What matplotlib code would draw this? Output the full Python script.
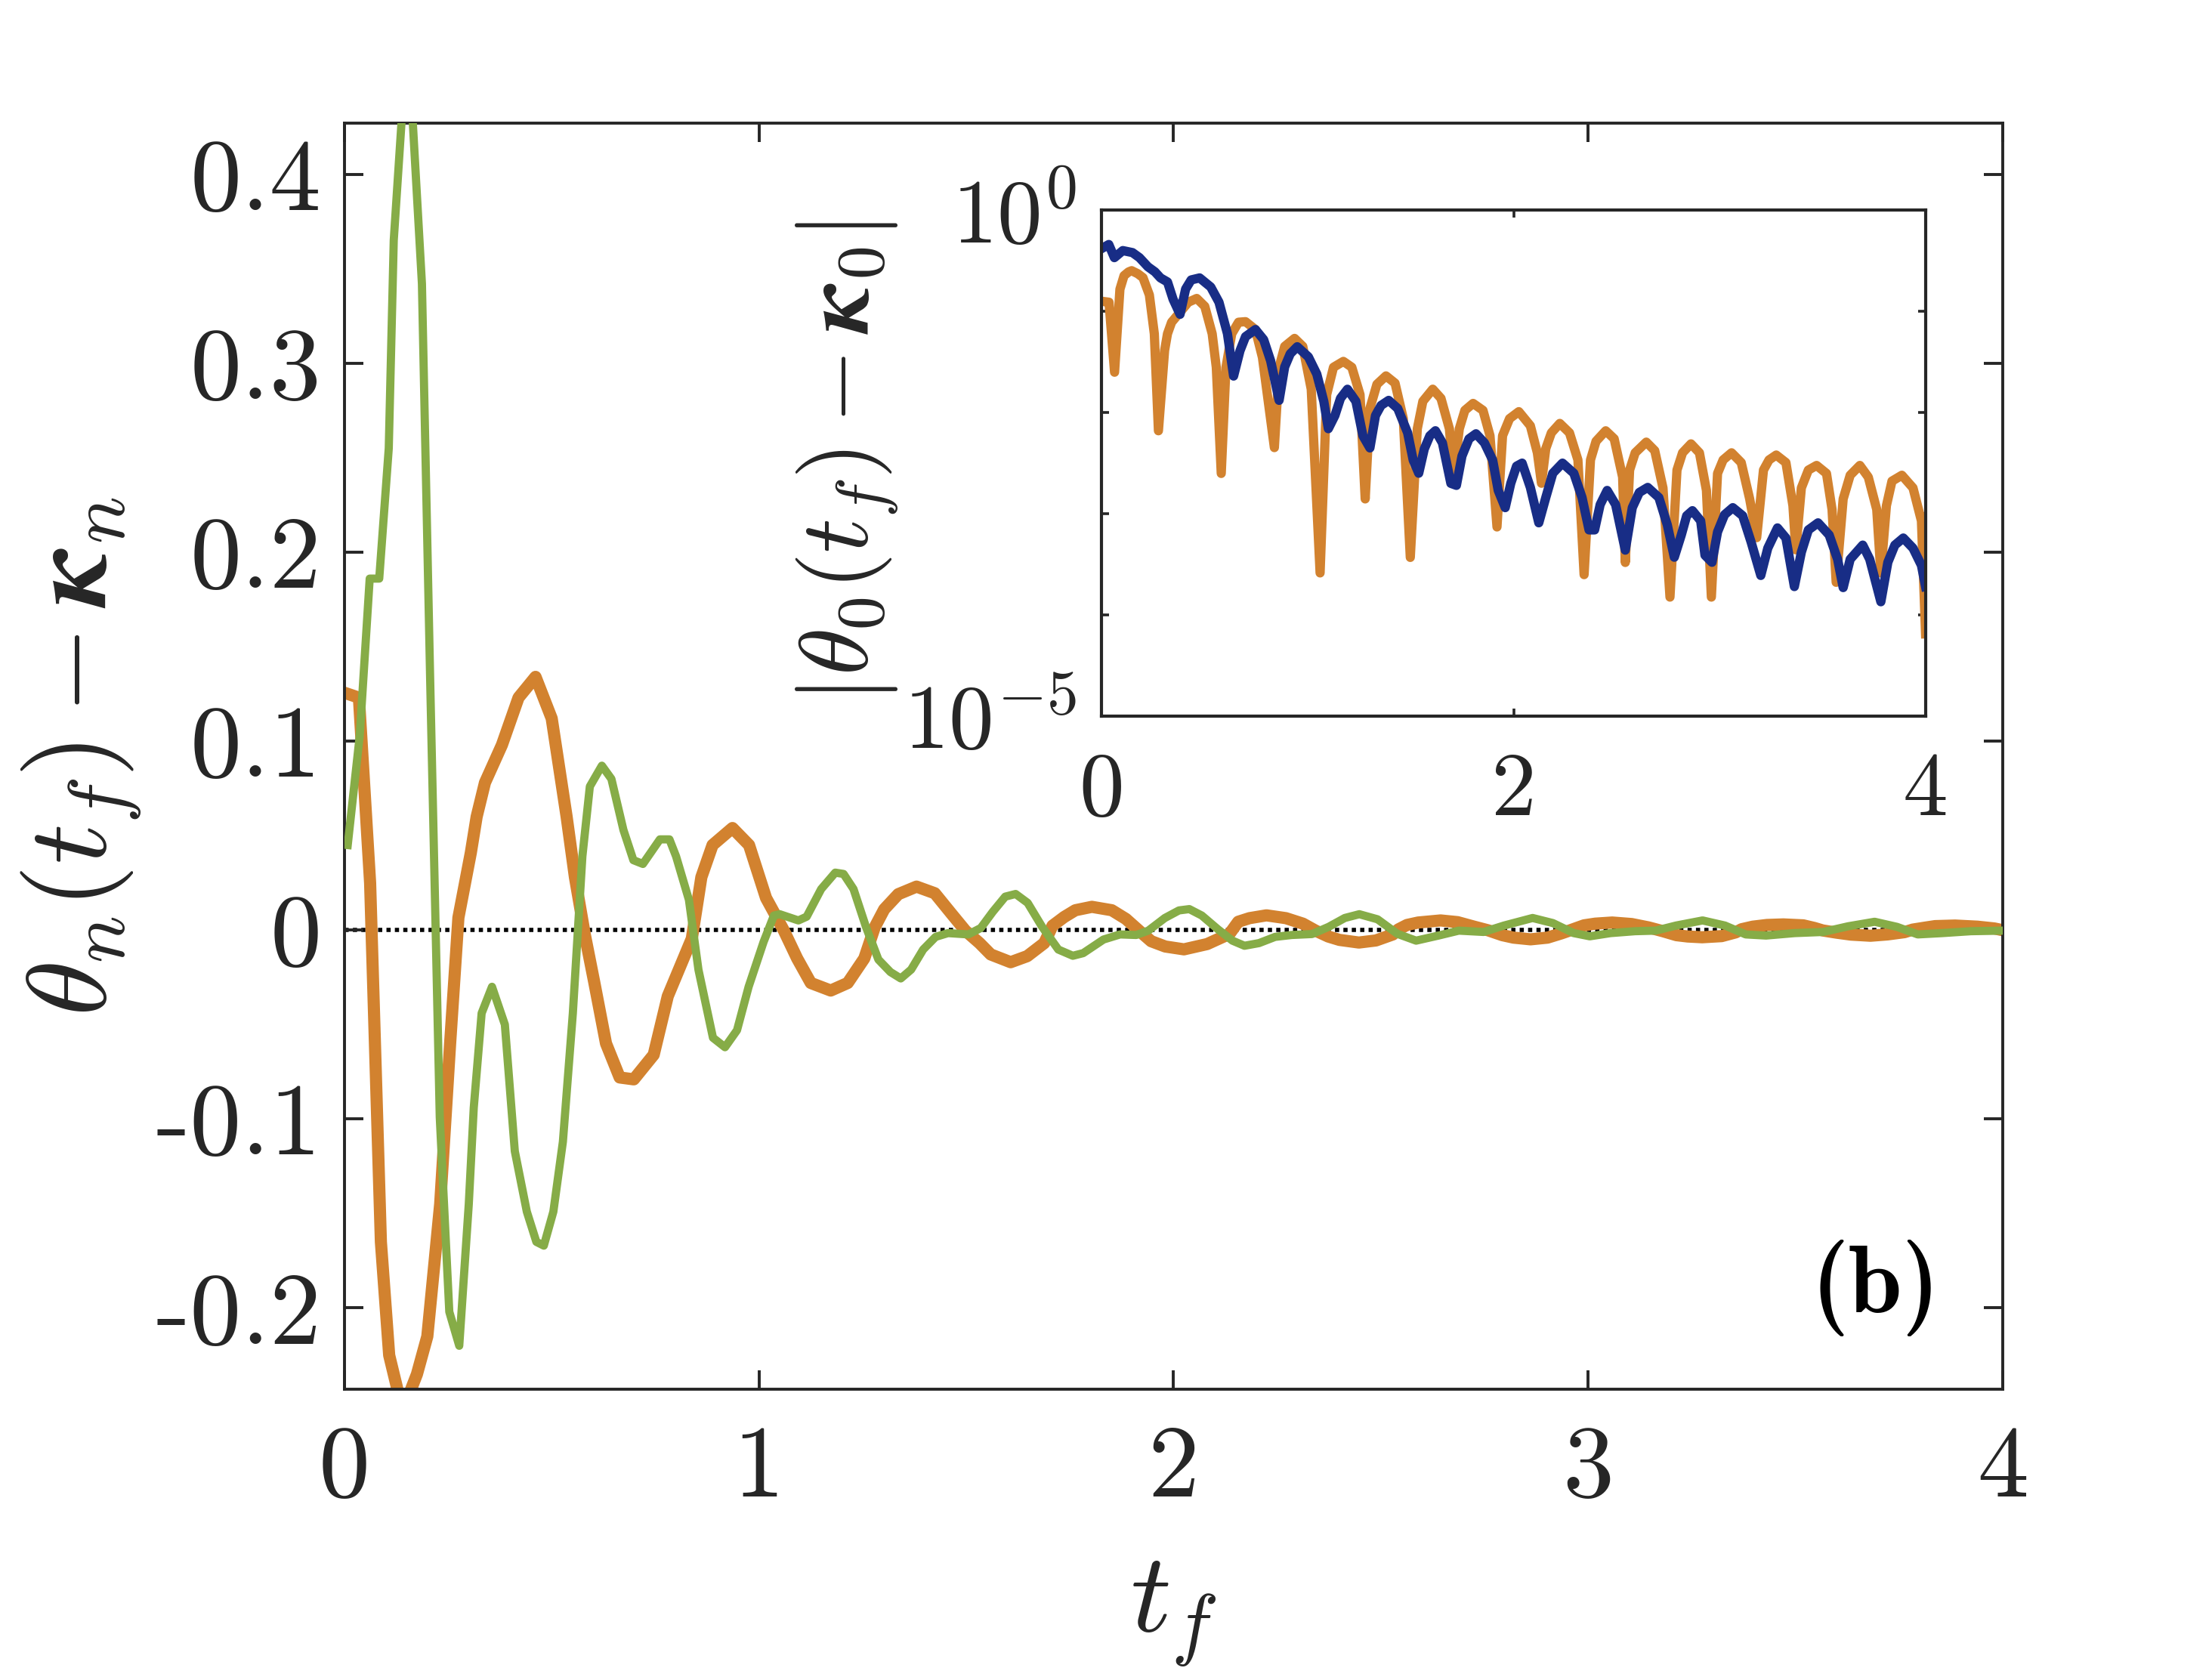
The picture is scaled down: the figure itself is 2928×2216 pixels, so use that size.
import numpy as np
import matplotlib
matplotlib.use("Agg")
import matplotlib.pyplot as plt
from matplotlib.ticker import FixedLocator, NullLocator, FixedFormatter

plt.rcParams['font.family'] = 'serif'
plt.rcParams['font.serif'] = ['cmr10']
plt.rcParams['mathtext.fontset'] = 'cm'
plt.rcParams['axes.unicode_minus'] = False
plt.rcParams['axes.formatter.use_mathtext'] = True

# --- data ---
# orange curve: theta_0(t_f) - kappa_0 (signed; the inset shows its magnitude)
t_orange = [0.008, 0.035, 0.062, 0.088, 0.108, 0.130, 0.145, 0.175, 0.200, 0.231,
            0.255, 0.275, 0.305, 0.319, 0.339, 0.380, 0.420, 0.461, 0.500, 0.536,
            0.556, 0.580, 0.603, 0.631, 0.664, 0.698, 0.746, 0.780, 0.838, 0.861,
            0.888, 0.936, 0.976, 1.017, 1.060, 1.092, 1.125, 1.173, 1.214, 1.254,
            1.279, 1.302, 1.336, 1.380, 1.424, 1.464, 1.498, 1.532, 1.559, 1.607,
            1.647, 1.688, 1.708, 1.736, 1.763, 1.803, 1.851, 1.885, 1.919, 1.946,
            1.980, 2.025, 2.081, 2.115, 2.135, 2.156, 2.183, 2.224, 2.271, 2.312,
            2.342, 2.373, 2.400, 2.447, 2.488, 2.529, 2.542, 2.563, 2.590, 2.644,
            2.685, 2.725, 2.759, 2.793, 2.820, 2.861, 2.902, 2.936, 2.960, 2.990,
            3.017, 3.058, 3.105, 3.146, 3.180, 3.213, 3.240, 3.275, 3.322, 3.356,
            3.370, 3.397, 3.431, 3.471, 3.519, 3.546, 3.566, 3.600, 3.634, 3.681,
            3.722, 3.763, 3.783, 3.810, 3.837, 3.885, 3.939, 3.980, 4.000]
v_orange = [0.125, 0.123, 0.025, -0.165, -0.225, -0.245, -0.252, -0.235, -0.215, -0.145,
            -0.060, 0.0066, 0.041, 0.060, 0.078, 0.098, 0.123, 0.134, 0.112, 0.060,
            0.028, -0.0025, -0.028, -0.060, -0.078, -0.079, -0.066, -0.035, -0.0045, 0.028,
            0.045, 0.054, 0.045, 0.017, -0.00026, -0.015, -0.028, -0.032, -0.028, -0.015,
            0.0014, 0.011, 0.019, 0.023, 0.0195, 0.0087, -0.00037, -0.0069, -0.0129, -0.017,
            -0.0138, -0.0069, 0.0023, 0.0069, 0.0105, 0.0123, 0.0105, 0.0059, -0.00074, -0.0059,
            -0.0087, -0.0102, -0.0074, -0.0040, -0.0020, 0.0044, 0.0063, 0.0078, 0.0063, 0.0034,
            -0.00025, -0.0034, -0.0052, -0.0066, -0.0055, -0.0023, 0.00033, 0.0027, 0.0040, 0.0051,
            0.0042, 0.0018, -0.00015, -0.0027, -0.0040, -0.0049, -0.0040, -0.0017, 0.00015, 0.0025,
            0.0034, 0.0040, 0.0032, 0.0014, -0.00058, -0.0027, -0.0034, -0.0038, -0.0032, -0.0012,
            0.00044, 0.0018, 0.0027, 0.0030, 0.0025, 0.0011, -0.00021, -0.0014, -0.0024, -0.0030,
            -0.0023, -0.0011, 0.00026, 0.0012, 0.0021, 0.0024, 0.0018, 0.00085, -0.000065]

# green curve: second component, main panel only
t_green = [0.008, 0.037, 0.061, 0.084, 0.107, 0.119, 0.140, 0.163, 0.187, 0.207,
           0.230, 0.253, 0.277, 0.300, 0.312, 0.331, 0.356, 0.387, 0.411, 0.440,
           0.463, 0.481, 0.504, 0.527, 0.551, 0.574, 0.592, 0.621, 0.644, 0.673,
           0.697, 0.720, 0.761, 0.784, 0.800, 0.831, 0.854, 0.889, 0.918, 0.947,
           0.975, 1.011, 1.036, 1.050, 1.095, 1.115, 1.150, 1.184, 1.204, 1.228,
           1.258, 1.288, 1.317, 1.342, 1.367, 1.396, 1.426, 1.456, 1.505, 1.535,
           1.564, 1.594, 1.619, 1.648, 1.683, 1.722, 1.757, 1.782, 1.831, 1.871,
           1.910, 1.939, 1.979, 2.013, 2.038, 2.068, 2.107, 2.142, 2.171, 2.206,
           2.245, 2.285, 2.334, 2.374, 2.413, 2.448, 2.492, 2.540, 2.585, 2.639,
           2.688, 2.748, 2.797, 2.866, 2.915, 2.965, 3.004, 3.054, 3.113, 3.163,
           3.212, 3.276, 3.330, 3.380, 3.429, 3.498, 3.567, 3.627, 3.691, 3.745,
           3.795, 3.854, 3.923, 4.000]
v_green = [0.045, 0.103, 0.186, 0.186, 0.255, 0.365, 0.435, 0.435, 0.342, 0.131,
           -0.099, -0.202, -0.220, -0.145, -0.094, -0.044, -0.030, -0.050, -0.117, -0.149,
           -0.165, -0.167, -0.149, -0.112, -0.044, 0.039, 0.076, 0.087, 0.080, 0.053,
           0.037, 0.035, 0.048, 0.048, 0.039, 0.016, -0.021, -0.057, -0.062, -0.053,
           -0.030, -0.0063, 0.0077, 0.0084, 0.0051, 0.0071, 0.0217, 0.0304, 0.0297, 0.0217,
           0.0017, -0.0156, -0.0222, -0.0256, -0.0209, -0.0103, -0.0036, -0.0016, -0.0023, 0.0011,
           0.0097, 0.0177, 0.0191, 0.0144, 0.0017, -0.0103, -0.0136, -0.0122, -0.0050, -0.0023,
           -0.0026, -0.0003, 0.0064, 0.0104, 0.0111, 0.0077, 0.0004, -0.0056, -0.0083, -0.0069,
           -0.0036, -0.0026, -0.0021, 0.0017, 0.0064, 0.0084, 0.0057, -0.0020, -0.0056, -0.0029,
           -0.0003, -0.0010, 0.0024, 0.0064, 0.0037, -0.0016, -0.0033, -0.0016, -0.0006, -0.0003,
           0.0024, 0.0051, 0.0024, -0.0023, -0.0029, -0.0016, -0.0010, 0.0020, 0.0044, 0.0017,
           -0.0023, -0.0016, -0.0006, -0.0003]

# navy curve (inset only): log10 of |theta_0 - kappa_0| for the second method
t_navy = [0.008, 0.034, 0.061, 0.102, 0.149, 0.183, 0.224, 0.258, 0.285, 0.319,
          0.346, 0.380, 0.407, 0.434, 0.475, 0.529, 0.569, 0.610, 0.640, 0.671,
          0.698, 0.746, 0.786, 0.820, 0.861, 0.888, 0.915, 0.949, 1.003, 1.044,
          1.078, 1.100, 1.132, 1.159, 1.193, 1.234, 1.268, 1.302, 1.329, 1.356,
          1.393, 1.437, 1.485, 1.512, 1.539, 1.566, 1.593, 1.620, 1.654, 1.695,
          1.722, 1.749, 1.783, 1.817, 1.858, 1.898, 1.925, 1.959, 1.986, 2.014,
          2.041, 2.081, 2.122, 2.156, 2.190, 2.237, 2.292, 2.332, 2.366, 2.393,
          2.420, 2.454, 2.495, 2.542, 2.576, 2.610, 2.651, 2.705, 2.746, 2.780,
          2.814, 2.840, 2.868, 2.908, 2.929, 2.963, 2.990, 3.024, 3.064, 3.112,
          3.153, 3.200, 3.234, 3.281, 3.322, 3.363, 3.397, 3.431, 3.478, 3.532,
          3.573, 3.600, 3.634, 3.695, 3.729, 3.783, 3.817, 3.851, 3.892, 3.939,
          3.980, 4.000]
log_navy = [-0.37, -0.34, -0.47, -0.40, -0.42, -0.47, -0.56, -0.61, -0.67, -0.71,
            -0.88, -1.03, -0.78, -0.69, -0.67, -0.76, -0.91, -1.22, -1.64, -1.39,
            -1.25, -1.18, -1.28, -1.49, -1.88, -1.55, -1.42, -1.35, -1.45, -1.62,
            -1.89, -2.16, -2.03, -1.86, -1.77, -1.89, -2.23, -2.35, -2.03, -1.93,
            -1.88, -1.96, -2.20, -2.47, -2.60, -2.36, -2.23, -2.18, -2.30, -2.70,
            -2.72, -2.43, -2.26, -2.21, -2.30, -2.47, -2.77, -2.94, -2.70, -2.53,
            -2.50, -2.74, -3.09, -2.84, -2.60, -2.50, -2.60, -2.84, -3.16, -3.16,
            -2.91, -2.77, -2.91, -3.36, -2.94, -2.79, -2.74, -2.84, -3.11, -3.43,
            -3.21, -3.02, -2.97, -3.07, -3.41, -3.48, -3.18, -3.01, -2.94, -3.02,
            -3.28, -3.61, -3.34, -3.14, -3.24, -3.72, -3.38, -3.16, -3.09, -3.21,
            -3.45, -3.73, -3.45, -3.31, -3.45, -3.87, -3.48, -3.31, -3.24, -3.34,
            -3.51, -3.72]

main_xticks = [0, 1, 2, 3, 4]
main_yticks = [-0.2, -0.1, 0, 0.1, 0.2, 0.3, 0.4]
main_yticklabels = ['-0.2', '-0.1', '0', '0.1', '0.2', '0.3', '0.4']
inset_xticks = [0, 2, 4]
inset_yticks = [1e-5, 1e-4, 1e-3, 1e-2, 1e-1, 1e0]
inset_yticklabels = [r'$10^{-5}$', '', '', '', '', r'$10^{0}$']

c_orange = '#D2822F'
c_green = '#86AC47'
c_navy = '#182D86'
c_axis = '#262626'

fig = plt.figure(figsize=(14.64, 11.08), dpi=200)

# --- main panel ---
ax = fig.add_axes([0.1557, 0.1701, 0.7497, 0.7563])
ax.axhline(0, color='black', lw=2.0, ls=(0, (1.0, 1.0)), zorder=1)
ax.plot(t_orange, v_orange, color=c_orange, lw=5.8, zorder=2)
ax.plot(t_green, v_green, color=c_green, lw=3.9, zorder=3)
ax.set_xlim(0, 4)
ax.set_ylim(-0.243, 0.427)
ax.xaxis.set_major_locator(FixedLocator(main_xticks))
ax.xaxis.set_major_formatter(FixedFormatter([str(v) for v in main_xticks]))
ax.yaxis.set_major_locator(FixedLocator(main_yticks))
ax.yaxis.set_major_formatter(FixedFormatter(main_yticklabels))
ax.tick_params(which='both', direction='in', top=True, right=True,
               length=9, width=1.4, color=c_axis, labelcolor=c_axis, labelsize=49)
ax.tick_params(axis='x', pad=17)
ax.tick_params(axis='y', pad=11)
for s in ax.spines.values():
    s.set_linewidth(1.4)
    s.set_color(c_axis)

fig.text(0.0369, 0.548, r'$\theta_n(t_f) - \boldsymbol{\kappa}_n$', rotation=90,
         ha='center', va='center', fontsize=54, color=c_axis)
fig.text(0.5305, 0.036, r'$t_f$', ha='center', va='center', fontsize=54, color=c_axis)
ax.text(0.8477, 0.2306, '(b)', transform=fig.transFigure, ha='center', va='center',
        fontsize=46, family='cmb10', color='black')

# --- inset ---
ins = fig.add_axes([0.4981, 0.5722, 0.3724, 0.3023])
ins.semilogy(t_orange, np.abs(v_orange), color=c_orange, lw=4.4)
ins.semilogy(t_navy, 10.0 ** np.array(log_navy), color=c_navy, lw=4.4)
ins.set_xlim(0, 4)
ins.set_ylim(1e-5, 1)
ins.xaxis.set_major_locator(FixedLocator(inset_xticks))
ins.xaxis.set_major_formatter(FixedFormatter([str(v) for v in inset_xticks]))
ins.yaxis.set_major_locator(FixedLocator(inset_yticks))
ins.yaxis.set_major_formatter(FixedFormatter(inset_yticklabels))
ins.yaxis.set_minor_locator(NullLocator())
ins.tick_params(which='both', direction='in', top=True, right=True,
                length=3.6, width=1.3, color=c_axis, labelcolor=c_axis, labelsize=43)
ins.tick_params(axis='x', pad=17)
ins.tick_params(axis='y', pad=12)
for s in ins.spines.values():
    s.set_linewidth(1.5)
    s.set_color(c_axis)

fig.text(0.3832, 0.7238, r'$\left|\theta_0(t_f) - \boldsymbol{\kappa}_0\right|$', rotation=90,
         ha='center', va='center', fontsize=46, color=c_axis)

fig.savefig('out.png', dpi=200)
